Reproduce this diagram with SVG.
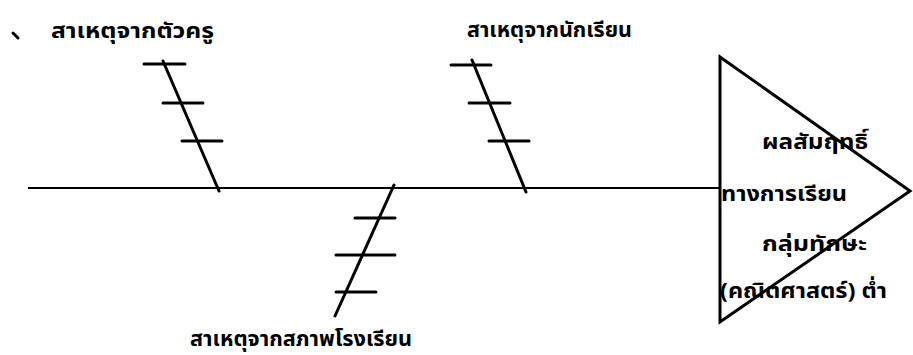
<svg xmlns="http://www.w3.org/2000/svg" width="913" height="355" viewBox="0 0 913 355">
<style>
.ln{stroke:#000;stroke-width:3;stroke-linecap:round;fill:none}
.sp{stroke:#000;stroke-width:2.2;fill:none}
.t{font-family:"Noto Sans Thai","Noto Sans","Liberation Sans",sans-serif;font-weight:bold;font-size:21px;fill:#000}
</style>
<rect width="913" height="355" fill="#fff"/>
<g id="connectors">
<line class="sp" x1="28" y1="188" x2="720" y2="188"/>
</g>
<g id="bone-teacher">
<line class="ln" x1="163" y1="61" x2="219" y2="191"/>
<line class="ln" x1="144" y1="64" x2="185" y2="64"/>
<line class="ln" x1="163" y1="103" x2="203" y2="103"/>
<line class="ln" x1="182" y1="141" x2="222" y2="141"/>
<path d="M13 33 L18 38" class="ln" stroke-width="3.5"/>
<text class="t" x="51" y="38" textLength="163" lengthAdjust="spacingAndGlyphs">สาเหตุจากตัวครู</text>
</g>
<g id="bone-student">
<line class="ln" x1="472" y1="60" x2="526" y2="192"/>
<line class="ln" x1="451" y1="65" x2="491" y2="65"/>
<line class="ln" x1="469" y1="103" x2="510" y2="103"/>
<line class="ln" x1="489" y1="141" x2="529" y2="141"/>
<text class="t" x="467" y="37" textLength="165" lengthAdjust="spacingAndGlyphs">สาเหตุจากนักเรียน</text>
</g>
<g id="bone-school">
<line class="ln" x1="394" y1="185" x2="335" y2="316"/>
<line class="ln" x1="355" y1="218" x2="395" y2="218"/>
<line class="ln" x1="336" y1="255" x2="395" y2="255"/>
<line class="ln" x1="336" y1="292" x2="376" y2="292"/>
<text class="t" x="190" y="346" textLength="222" lengthAdjust="spacingAndGlyphs">สาเหตุจากสภาพโรงเรียน</text>
</g>
<g id="head">
<polygon points="720,57 910,191 720,322" class="ln" stroke-linejoin="miter"/>
<text class="t" x="762" y="149" textLength="106" lengthAdjust="spacingAndGlyphs">ผลสัมฤทธิ์</text>
<text class="t" x="721" y="201" textLength="126" lengthAdjust="spacingAndGlyphs">ทางการเรียน</text>
<text class="t" x="762" y="251" textLength="105" lengthAdjust="spacingAndGlyphs">กลุ่มทักษะ</text>
<text class="t" x="720" y="298" textLength="167" lengthAdjust="spacingAndGlyphs">(คณิตศาสตร์) ต่ำ</text>
</g>
</svg>
